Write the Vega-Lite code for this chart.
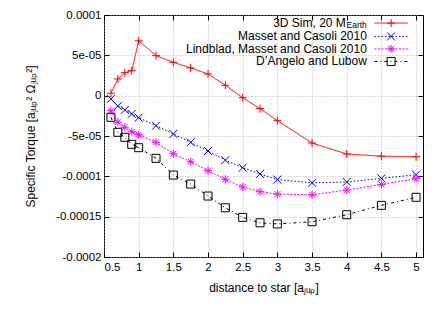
{
  "$schema": "https://vega.github.io/schema/vega-lite/v6.json",
  "width": 319,
  "height": 242,
  "autosize": {"type": "none"},
  "padding": {"left": 104, "top": 15, "right": 19, "bottom": 52},
  "config": {
    "view": {"stroke": "black", "strokeWidth": 1},
    "font": "Liberation Sans",
    "axis": {
      "domain": false,
      "gridColor": "#a8a8a8",
      "gridDash": [1, 2],
      "gridWidth": 0.8,
      "tickColor": "black",
      "tickSize": -5,
      "labelFont": "Liberation Sans",
      "labelFontSize": 11.5,
      "labelColor": "black",
      "titleFont": "Liberation Sans",
      "titleFontSize": 12,
      "titleFontWeight": "normal",
      "titleColor": "black"
    }
  },
  "datasets": {
    "torque": [
      {"series": "sim", "x": 0.6, "y": 0.000003},
      {"series": "sim", "x": 0.7, "y": 0.0000207},
      {"series": "sim", "x": 0.8, "y": 0.0000285},
      {"series": "sim", "x": 0.9, "y": 0.000031},
      {"series": "sim", "x": 1.0, "y": 0.000068},
      {"series": "sim", "x": 1.25, "y": 0.0000496},
      {"series": "sim", "x": 1.5, "y": 0.0000414},
      {"series": "sim", "x": 1.75, "y": 0.0000344},
      {"series": "sim", "x": 2.0, "y": 0.0000269},
      {"series": "sim", "x": 2.25, "y": 0.0000129},
      {"series": "sim", "x": 2.5, "y": -0.0000025},
      {"series": "sim", "x": 2.75, "y": -0.000016},
      {"series": "sim", "x": 3.0, "y": -0.000031},
      {"series": "sim", "x": 3.5, "y": -0.0000587},
      {"series": "sim", "x": 4.0, "y": -0.0000723},
      {"series": "sim", "x": 4.5, "y": -0.000075},
      {"series": "sim", "x": 5.0, "y": -0.0000757},
      {"series": "masset", "x": 0.6, "y": -0.000004},
      {"series": "masset", "x": 0.7, "y": -0.0000128},
      {"series": "masset", "x": 0.8, "y": -0.0000177},
      {"series": "masset", "x": 0.9, "y": -0.0000227},
      {"series": "masset", "x": 1.0, "y": -0.0000273},
      {"series": "masset", "x": 1.25, "y": -0.0000372},
      {"series": "masset", "x": 1.5, "y": -0.0000475},
      {"series": "masset", "x": 1.75, "y": -0.0000578},
      {"series": "masset", "x": 2.0, "y": -0.0000686},
      {"series": "masset", "x": 2.25, "y": -0.00008},
      {"series": "masset", "x": 2.5, "y": -0.0000893},
      {"series": "masset", "x": 2.75, "y": -0.000097},
      {"series": "masset", "x": 3.0, "y": -0.000104},
      {"series": "masset", "x": 3.5, "y": -0.000108},
      {"series": "masset", "x": 4.0, "y": -0.000107},
      {"series": "masset", "x": 4.5, "y": -0.0001025},
      {"series": "masset", "x": 5.0, "y": -0.000098},
      {"series": "lindblad", "x": 0.6, "y": -0.0000186},
      {"series": "lindblad", "x": 0.7, "y": -0.000033},
      {"series": "lindblad", "x": 0.8, "y": -0.0000392},
      {"series": "lindblad", "x": 0.9, "y": -0.0000447},
      {"series": "lindblad", "x": 1.0, "y": -0.0000484},
      {"series": "lindblad", "x": 1.25, "y": -0.0000578},
      {"series": "lindblad", "x": 1.5, "y": -0.000072},
      {"series": "lindblad", "x": 1.75, "y": -0.0000819},
      {"series": "lindblad", "x": 2.0, "y": -0.000093},
      {"series": "lindblad", "x": 2.25, "y": -0.0001037},
      {"series": "lindblad", "x": 2.5, "y": -0.0001133},
      {"series": "lindblad", "x": 2.75, "y": -0.000119},
      {"series": "lindblad", "x": 3.0, "y": -0.000122},
      {"series": "lindblad", "x": 3.5, "y": -0.0001228},
      {"series": "lindblad", "x": 4.0, "y": -0.000117},
      {"series": "lindblad", "x": 4.5, "y": -0.00011},
      {"series": "lindblad", "x": 5.0, "y": -0.000103},
      {"series": "dangelo", "x": 0.6, "y": -0.0000268},
      {"series": "dangelo", "x": 0.7, "y": -0.0000454},
      {"series": "dangelo", "x": 0.8, "y": -0.0000516},
      {"series": "dangelo", "x": 0.9, "y": -0.0000603},
      {"series": "dangelo", "x": 1.0, "y": -0.0000645},
      {"series": "dangelo", "x": 1.25, "y": -0.0000777},
      {"series": "dangelo", "x": 1.5, "y": -0.0000984},
      {"series": "dangelo", "x": 1.75, "y": -0.0001096},
      {"series": "dangelo", "x": 2.0, "y": -0.0001244},
      {"series": "dangelo", "x": 2.25, "y": -0.000139},
      {"series": "dangelo", "x": 2.5, "y": -0.0001509},
      {"series": "dangelo", "x": 2.75, "y": -0.0001576},
      {"series": "dangelo", "x": 3.0, "y": -0.000159},
      {"series": "dangelo", "x": 3.5, "y": -0.0001563},
      {"series": "dangelo", "x": 4.0, "y": -0.0001476},
      {"series": "dangelo", "x": 4.5, "y": -0.000136},
      {"series": "dangelo", "x": 5.0, "y": -0.000126}
    ]
  },
  "layer": [
    {
      "data": {"name": "torque"},
      "encoding": {
        "x": {
          "field": "x", "type": "quantitative",
          "scale": {"domain": [0.5, 5.1], "nice": false, "zero": false},
          "axis": {
            "orient": "bottom",
            "values": [0.5, 1, 1.5, 2, 2.5, 3, 3.5, 4, 4.5, 5],
            "labelExpr": "'' + datum.value",
            "labelPadding": 9,
            "title": "distance to star [aⱼᵤₚ]",
            "titlePadding": 10
          }
        },
        "y": {
          "field": "y", "type": "quantitative",
          "scale": {"domain": [-0.0002, 0.0001], "nice": false, "zero": false},
          "axis": {
            "orient": "left",
            "values": [-0.0002, -0.00015, -0.0001, -0.00005, 0, 0.00005, 0.0001],
            "labelExpr": "round(datum.value*1e5) == 10 ? '0.0001' : round(datum.value*1e5) == 5 ? '5e-05' : round(datum.value*1e5) == 0 ? '0' : round(datum.value*1e5) == -5 ? '-5e-05' : round(datum.value*1e5) == -10 ? '-0.0001' : round(datum.value*1e5) == -15 ? '-0.00015' : '-0.0002'",
            "labelPadding": 8,
            "title": "Specific Torque [aⱼᵤₚ² Ωⱼᵤₚ²]",
            "titlePadding": 18
          }
        },
        "color": {
          "field": "series", "type": "nominal",
          "scale": {"domain": ["sim", "masset", "lindblad", "dangelo"], "range": ["#ff0000", "#0000ff", "#ff00ff", "#000000"]},
          "legend": null
        }
      },
      "layer": [
        {
          "mark": {"type": "line", "strokeWidth": 1},
          "encoding": {
            "strokeDash": {
              "field": "series", "type": "nominal",
              "scale": {"domain": ["sim", "masset", "lindblad", "dangelo"], "range": [[1, 0], [1.5, 2], [2, 1.5], [3, 3, 1, 3]]},
              "legend": null
            }
          }
        },
        {
          "mark": {"type": "point", "filled": false, "strokeWidth": 1, "opacity": 1},
          "encoding": {
            "shape": {
              "field": "series", "type": "nominal",
              "scale": {"domain": ["sim", "masset", "lindblad", "dangelo"], "range": ["M-1,0L1,0M0,-1L0,1", "M-1,-1L1,1M-1,1L1,-1", "M-1,0L1,0M0,-1L0,1M-0.75,-0.75L0.75,0.75M-0.75,0.75L0.75,-0.75", "square"]},
              "legend": null
            },
            "size": {
              "field": "series", "type": "nominal",
              "scale": {"domain": ["sim", "masset", "lindblad", "dangelo"], "range": [64, 64, 64, 52]},
              "legend": null
            }
          }
        }
      ]
    },
    {
      "data": {"name": "torque"},
      "mark": {"type": "point", "opacity": 0},
      "encoding": {
        "x": {"field": "x", "type": "quantitative", "axis": {"orient": "top", "values": [0.5, 1, 1.5, 2, 2.5, 3, 3.5, 4, 4.5, 5], "labels": false, "grid": false, "title": null}},
        "y": {"field": "y", "type": "quantitative", "axis": {"orient": "right", "values": [-0.0002, -0.00015, -0.0001, -0.00005, 0, 0.00005, 0.0001], "labels": false, "grid": false, "title": null}}
      }
    },
    {
      "data": {"values": [{"series": "sim", "label": "3D Sim, 20 M", "sub": "Earth"}]},
      "encoding": {"y": {"datum": 0.00009, "type": "quantitative", "axis": null}},
      "layer": [
        {"mark": {"type": "text", "align": "right", "baseline": "middle", "fontSize": 12, "dx": -21}, "encoding": {"x": {"datum": 4.29, "type": "quantitative", "axis": null}, "text": {"field": "label"}}},
        {"mark": {"type": "text", "align": "right", "baseline": "middle", "fontSize": 8.5, "dy": 1.5}, "encoding": {"x": {"datum": 4.29, "type": "quantitative", "axis": null}, "text": {"field": "sub"}}},
        {"mark": {"type": "rule", "strokeWidth": 1}, "encoding": {"x": {"datum": 4.40, "type": "quantitative", "axis": null}, "x2": {"datum": 4.88}, "color": {"field": "series", "type": "nominal", "legend": null}, "strokeDash": {"field": "series", "type": "nominal", "legend": null}}},
        {"mark": {"type": "point", "filled": false, "strokeWidth": 1, "opacity": 1}, "encoding": {"x": {"datum": 4.64, "type": "quantitative", "axis": null}, "color": {"field": "series", "type": "nominal", "legend": null}, "shape": {"field": "series", "type": "nominal", "legend": null}, "size": {"field": "series", "type": "nominal", "legend": null}}}
      ]
    },
    {
      "data": {"values": [{"series": "masset", "label": "Masset and Casoli 2010"}]},
      "encoding": {"y": {"datum": 0.0000735, "type": "quantitative", "axis": null}},
      "layer": [
        {"mark": {"type": "text", "align": "right", "baseline": "middle", "fontSize": 12}, "encoding": {"x": {"datum": 4.29, "type": "quantitative", "axis": null}, "text": {"field": "label"}}},
        {"mark": {"type": "rule", "strokeWidth": 1}, "encoding": {"x": {"datum": 4.40, "type": "quantitative", "axis": null}, "x2": {"datum": 4.88}, "color": {"field": "series", "type": "nominal", "legend": null}, "strokeDash": {"field": "series", "type": "nominal", "legend": null}}},
        {"mark": {"type": "point", "filled": false, "strokeWidth": 1, "opacity": 1}, "encoding": {"x": {"datum": 4.64, "type": "quantitative", "axis": null}, "color": {"field": "series", "type": "nominal", "legend": null}, "shape": {"field": "series", "type": "nominal", "legend": null}, "size": {"field": "series", "type": "nominal", "legend": null}}}
      ]
    },
    {
      "data": {"values": [{"series": "lindblad", "label": "Lindblad, Masset and Casoli 2010"}]},
      "encoding": {"y": {"datum": 0.000058, "type": "quantitative", "axis": null}},
      "layer": [
        {"mark": {"type": "text", "align": "right", "baseline": "middle", "fontSize": 12}, "encoding": {"x": {"datum": 4.29, "type": "quantitative", "axis": null}, "text": {"field": "label"}}},
        {"mark": {"type": "rule", "strokeWidth": 1}, "encoding": {"x": {"datum": 4.40, "type": "quantitative", "axis": null}, "x2": {"datum": 4.88}, "color": {"field": "series", "type": "nominal", "legend": null}, "strokeDash": {"field": "series", "type": "nominal", "legend": null}}},
        {"mark": {"type": "point", "filled": false, "strokeWidth": 1, "opacity": 1}, "encoding": {"x": {"datum": 4.64, "type": "quantitative", "axis": null}, "color": {"field": "series", "type": "nominal", "legend": null}, "shape": {"field": "series", "type": "nominal", "legend": null}, "size": {"field": "series", "type": "nominal", "legend": null}}}
      ]
    },
    {
      "data": {"values": [{"series": "dangelo", "label": "D’Angelo and Lubow"}]},
      "encoding": {"y": {"datum": 0.0000424, "type": "quantitative", "axis": null}},
      "layer": [
        {"mark": {"type": "text", "align": "right", "baseline": "middle", "fontSize": 12}, "encoding": {"x": {"datum": 4.29, "type": "quantitative", "axis": null}, "text": {"field": "label"}}},
        {"mark": {"type": "rule", "strokeWidth": 1}, "encoding": {"x": {"datum": 4.40, "type": "quantitative", "axis": null}, "x2": {"datum": 4.88}, "color": {"field": "series", "type": "nominal", "legend": null}, "strokeDash": {"field": "series", "type": "nominal", "legend": null}}},
        {"mark": {"type": "point", "filled": false, "strokeWidth": 1, "opacity": 1}, "encoding": {"x": {"datum": 4.64, "type": "quantitative", "axis": null}, "color": {"field": "series", "type": "nominal", "legend": null}, "shape": {"field": "series", "type": "nominal", "legend": null}, "size": {"field": "series", "type": "nominal", "legend": null}}}
      ]
    }
  ]
}
